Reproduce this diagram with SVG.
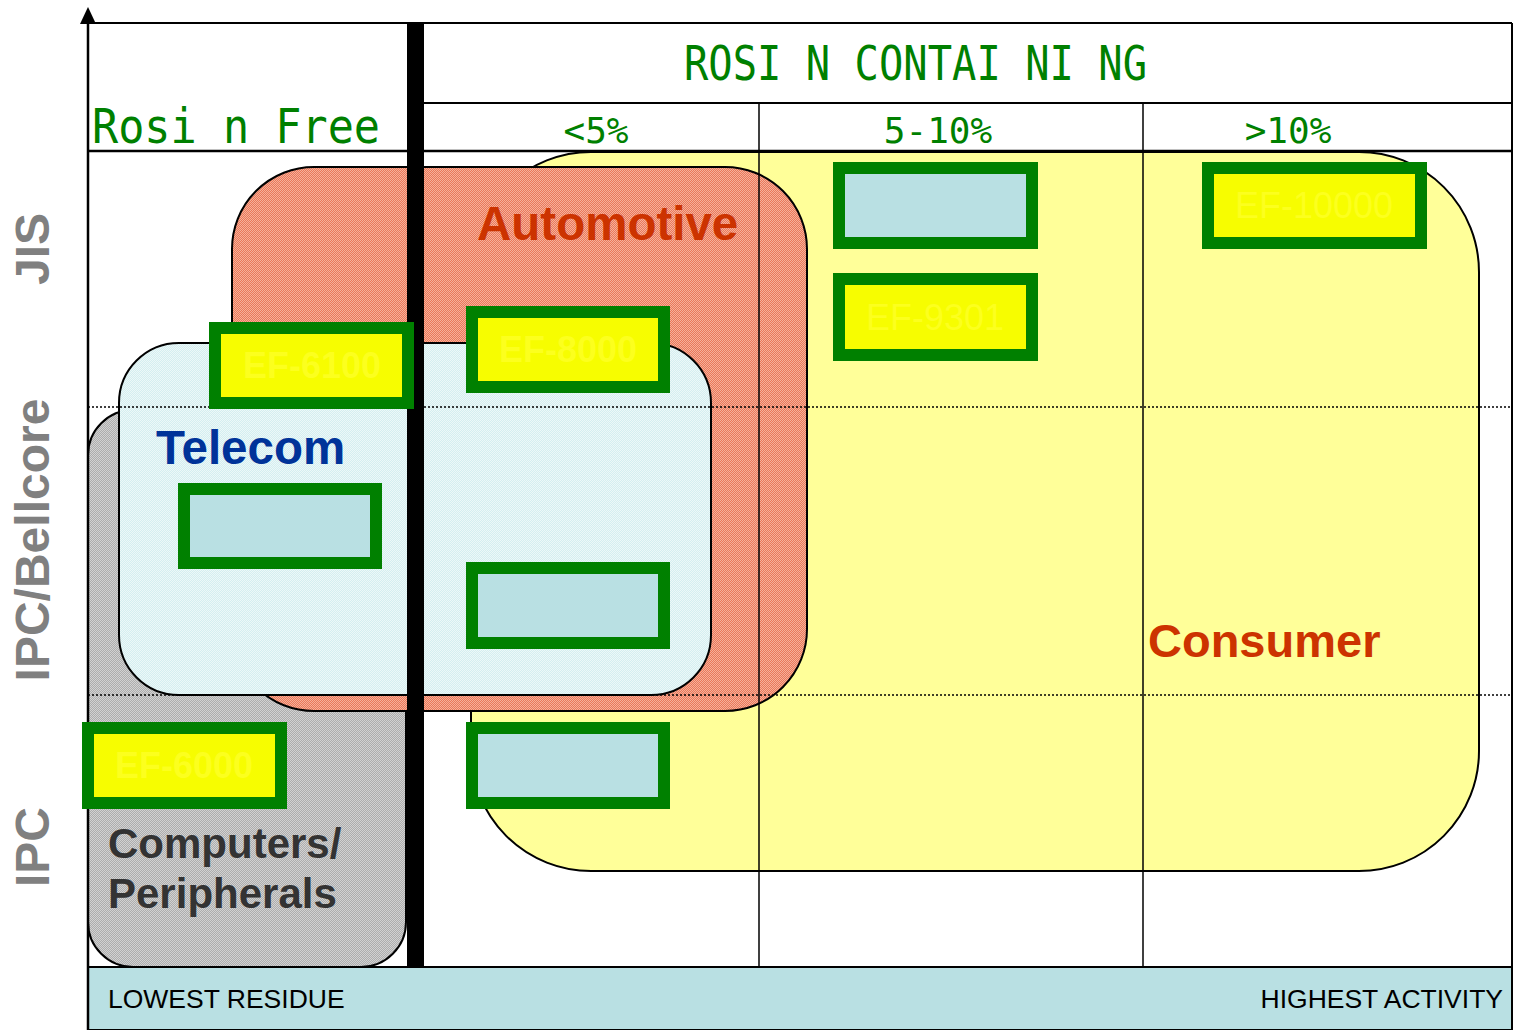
<svg xmlns="http://www.w3.org/2000/svg" width="1514" height="1030" viewBox="0 0 1514 1030">
<style>
.region{stroke:#000;stroke-width:2}
.gbox{stroke:#008000;stroke-width:12}
.yb{fill:#f7fd00}
.bb{fill:#b9e0e3}
.eft{font-family:"Liberation Sans",Arial,sans-serif;font-size:36px;fill:#fcff1e;text-anchor:middle}
.mono{font-family:"DejaVu Sans Mono",monospace;fill:#008000}
.side{font-family:"Liberation Sans",Arial,sans-serif;font-weight:bold;font-size:48px;fill:#808080;text-anchor:middle}
.lab{font-family:"Liberation Sans",Arial,sans-serif;font-weight:bold}
.grid{stroke:#000;fill:none}
.dot{stroke:#000;stroke-width:1.5;stroke-dasharray:2 2;fill:none}
.foot{font-family:"Liberation Sans",Arial,sans-serif;font-size:26.5px;fill:#000}
</style>
<defs>
<pattern id="pRed" width="2" height="2" patternUnits="userSpaceOnUse">
<rect width="2" height="2" fill="#e9785a"/><rect width="1" height="1" fill="#f6b09a"/><rect x="1" y="1" width="1" height="1" fill="#f6b09a"/>
</pattern>
<pattern id="pGray" width="2" height="2" patternUnits="userSpaceOnUse">
<rect width="2" height="2" fill="#adadad"/><rect width="1" height="1" fill="#d2d2d2"/><rect x="1" y="1" width="1" height="1" fill="#d2d2d2"/>
</pattern>
<pattern id="pBlue" width="2" height="2" patternUnits="userSpaceOnUse">
<rect width="2" height="2" fill="#d4eef0"/><rect width="1" height="1" fill="#ecf8f8"/><rect x="1" y="1" width="1" height="1" fill="#ecf8f8"/>
</pattern>
</defs>
<rect width="1514" height="1030" fill="#fff"/>

<g id="bottom-bar">
<rect x="88" y="967" width="1424" height="63" fill="#b9e0e3" stroke="#000" stroke-width="2"/>
<text class="foot" x="108" y="1008">LOWEST RESIDUE</text>
<text class="foot" x="1503" y="1008" text-anchor="end">HIGHEST ACTIVITY</text>
</g>

<g id="consumer">
<rect class="region" x="471" y="152" width="1008" height="719" rx="120" fill="#ffff99"/>
<text class="lab" x="1148" y="657" font-size="47" fill="#cc3300">Consumer</text>
</g>
<g id="computers">
<rect class="region" x="88" y="410" width="318" height="557" rx="45" fill="url(#pGray)"/>
</g>
<g id="automotive">
<rect class="region" x="232" y="167" width="575" height="544" rx="82" fill="url(#pRed)"/>
<text class="lab" x="477" y="240" font-size="47.5" fill="#cc3300">Automotive</text>
</g>
<g id="telecom">
<rect class="region" x="119" y="343" width="592" height="352" rx="60" fill="url(#pBlue)"/>
<text class="lab" x="156" y="464" font-size="47.5" fill="#003399">Telecom</text>
</g>
<g id="computers-label">
<text class="lab" x="108" y="858" font-size="42" fill="#333">Computers/</text>
<text class="lab" x="108" y="908" font-size="42" fill="#333">Peripherals</text>
</g>

<g id="grid">
<line class="grid" x1="88" y1="23" x2="1512" y2="23" stroke-width="2"/>
<line class="grid" x1="1512" y1="23" x2="1512" y2="1030" stroke-width="2"/>
<line class="grid" x1="424" y1="103" x2="1512" y2="103" stroke-width="2"/>
<line class="grid" x1="88" y1="151" x2="1512" y2="151" stroke-width="2.5"/>
<line class="grid" x1="759" y1="103" x2="759" y2="967" stroke-width="1.5"/>
<line class="grid" x1="1143" y1="103" x2="1143" y2="967" stroke-width="1.5"/>
<line class="dot" x1="88" y1="407" x2="1512" y2="407"/>
<line class="dot" x1="88" y1="695" x2="1512" y2="695"/>
<rect x="407" y="23" width="17" height="944" fill="#000"/>
</g>

<g id="axis">
<line x1="88" y1="1030" x2="88" y2="20" stroke="#000" stroke-width="2.5"/>
<path d="M88,7 L96,24 L80,24 z" fill="#000"/>
</g>

<g id="headers">
<text class="mono" x="92" y="143" font-size="48" textLength="288" lengthAdjust="spacingAndGlyphs">Rosi n Free</text>
<text class="mono" x="684" y="80" font-size="48" textLength="463" lengthAdjust="spacingAndGlyphs">ROSI N CONTAI NI NG</text>
<text class="mono" x="596" y="143" font-size="36" text-anchor="middle">&lt;5%</text>
<text class="mono" x="938" y="143" font-size="36" text-anchor="middle">5-10%</text>
<text class="mono" x="1288" y="143" font-size="36" text-anchor="middle">&gt;10%</text>
</g>

<g id="side-labels">
<text class="side" transform="translate(49,249) rotate(-90)">JIS</text>
<text class="side" transform="translate(49,540) rotate(-90)">IPC/Bellcore</text>
<text class="side" transform="translate(49,847) rotate(-90)">IPC</text>
</g>

<g id="box-5-10-top"><rect class="gbox bb" x="839" y="168" width="193" height="75"/></g>
<g id="ef-9301"><rect class="gbox yb" x="839" y="279" width="193" height="76"/><text class="eft" x="935" y="330">EF-9301</text></g>
<g id="ef-10000"><rect class="gbox yb" x="1208" y="168" width="213" height="75"/><text class="eft" x="1314" y="218">EF-10000</text></g>
<g id="ef-6100"><rect class="gbox yb" x="215" y="328" width="193" height="75"/><text class="eft" x="312" y="378" font-weight="bold">EF-6100</text></g>
<g id="ef-8000"><rect class="gbox yb" x="472" y="312" width="192" height="75"/><text class="eft" x="568" y="362" font-weight="bold">EF-8000</text></g>
<g id="box-telecom"><rect class="gbox bb" x="184" y="489" width="192" height="74"/></g>
<g id="box-lt5-mid"><rect class="gbox bb" x="472" y="568" width="192" height="75"/></g>
<g id="box-lt5-low"><rect class="gbox bb" x="472" y="728" width="192" height="75"/></g>
<g id="ef-6000"><rect class="gbox yb" x="88" y="728" width="193" height="75"/><text class="eft" x="184" y="778" font-weight="bold">EF-6000</text></g>
</svg>
